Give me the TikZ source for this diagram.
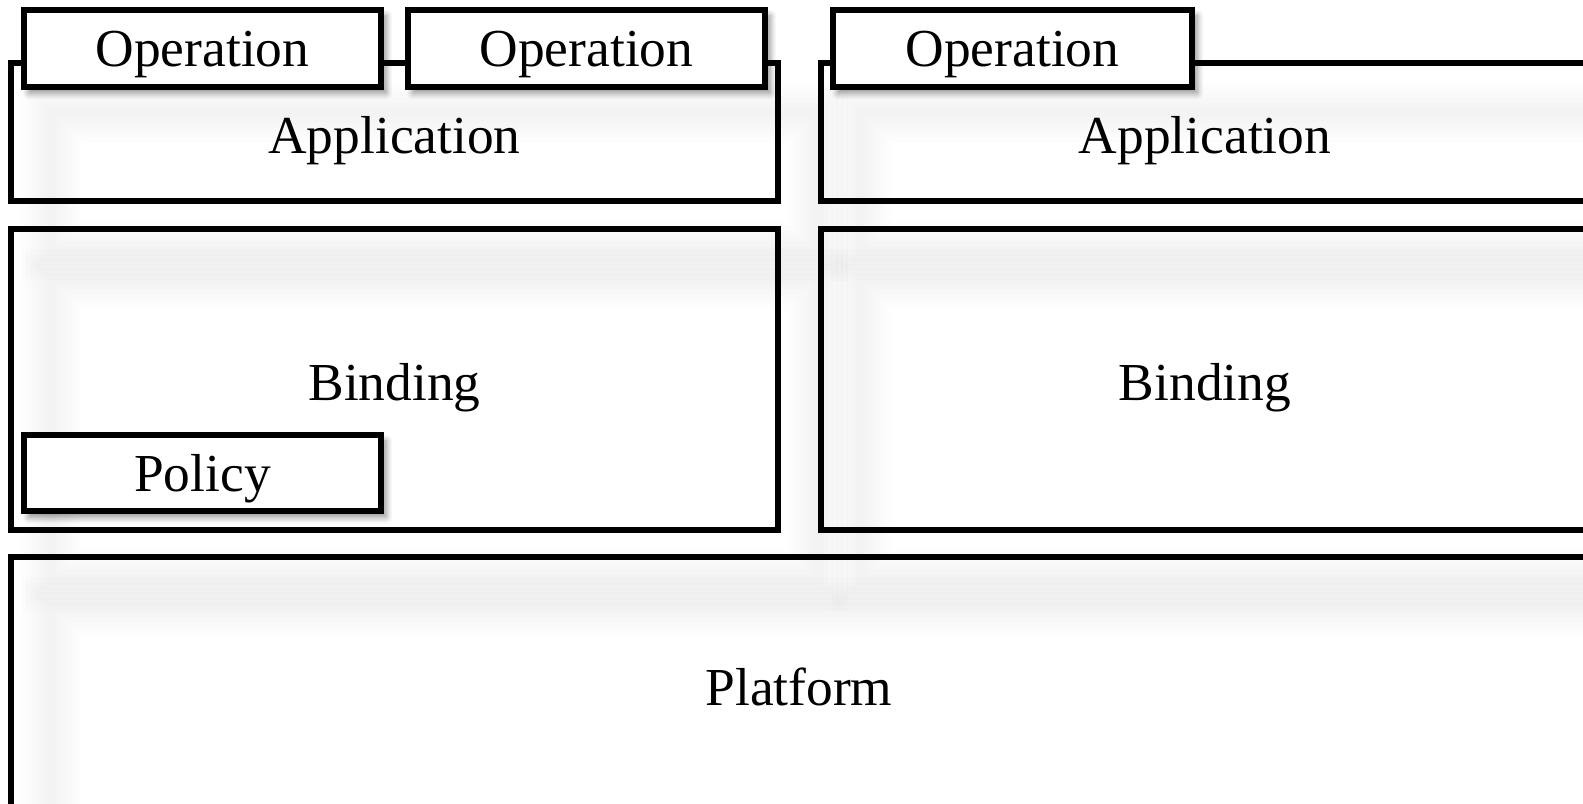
\documentclass[tikz,border=0pt]{standalone}
\usepackage{fontspec}
\setmainfont{Liberation Serif}
\usetikzlibrary{shadows.blur}

\tikzset{
  layerbox/.style={draw=black, line width=1.5pt},
  tabbox/.style={draw=black, fill=white, line width=1.5pt,
    blur shadow={shadow xshift=0.5mm, shadow yshift=-0.6mm, shadow blur steps=6, shadow opacity=45}},
  softshade/.style={draw=black, line width=#1, opacity=0.008},
  lbl/.style={font=\fontsize{15.2}{18}\selectfont}
}

\begin{document}
\begin{tikzpicture}
\useasboundingbox (0,0) rectangle (15.83,8.03);

% soft shadows of the layers
\foreach \w in {6mm,5mm,4mm,3mm,2mm,1mm} {
  \draw[softshade=\w] (0.51,6.90) rectangle (8.18,5.52);
  \draw[softshade=\w] (8.61,6.90) rectangle (16.29,5.52);
  \draw[softshade=\w] (0.51,5.24) rectangle (8.18,2.23);
  \draw[softshade=\w] (8.61,5.24) rectangle (16.29,2.23);
  \draw[softshade=\w] (0.51,1.96) rectangle (16.27,-0.53);
}

% layers
\draw[layerbox] (0.11,7.40) rectangle (7.78,6.02);
\draw[layerbox] (8.21,7.40) rectangle (15.89,6.02);
\draw[layerbox] (0.11,5.74) rectangle (7.78,2.73);
\draw[layerbox] (8.21,5.74) rectangle (15.89,2.73);
\draw[layerbox] (0.11,2.46) rectangle (15.87,-0.05);

% tabs
\draw[tabbox] (0.24,7.93) rectangle (3.81,7.16);
\draw[tabbox] (4.08,7.93) rectangle (7.65,7.16);
\draw[tabbox] (8.33,7.93) rectangle (11.92,7.16);
\draw[tabbox] (0.24,3.68) rectangle (3.81,2.92);

\node[lbl] (opA) at (2.025,7.485) {Operation};
\node[lbl] (opB) at (5.865,7.485) {Operation};
\node[lbl] (opC) at (10.125,7.485) {Operation};
\node[lbl] (appL) at (3.945,6.62) {Application};
\node[lbl] (appR) at (12.05,6.62) {Application};
\node[lbl] (bindL) at (3.945,4.15) {Binding};
\node[lbl] (bindR) at (12.05,4.15) {Binding};
\node[lbl] (pol) at (2.025,3.24) {Policy};
\node[lbl] (plat) at (7.99,1.16) {Platform};

\end{tikzpicture}
\end{document}
